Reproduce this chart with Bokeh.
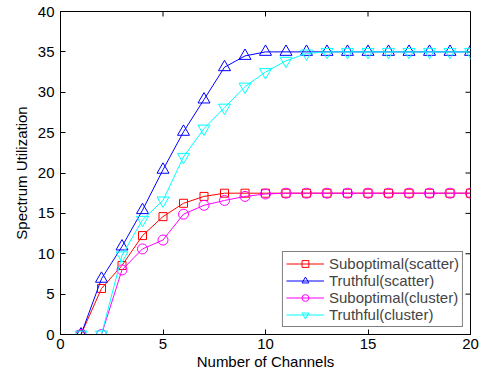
import math
from bokeh.plotting import figure
from bokeh.models import Range1d, FixedTicker, Legend, LegendItem
from bokeh.embed import file_html
from bokeh.resources import INLINE

channels = list(range(1, 21))
sub_scatter = [0, 5.7, 8.55, 12.25, 14.6, 16.25, 17.1, 17.5, 17.5, 17.5,
               17.5, 17.5, 17.5, 17.5, 17.5, 17.5, 17.5, 17.5, 17.5, 17.5]
tru_scatter = [0, 6.9, 10.9, 15.4, 20.4, 25.1, 29.1, 33.1, 34.5, 35.0,
               35, 35, 35, 35, 35, 35, 35, 35, 35, 35]
sub_cluster = [0, 0, 8.0, 10.6, 11.7, 14.9, 16.0, 16.6, 17.1, 17.4,
               17.5, 17.5, 17.5, 17.5, 17.5, 17.5, 17.5, 17.5, 17.5, 17.5]
tru_cluster = [0, 0, 9.8, 14.2, 16.6, 22.0, 25.5, 28.1, 30.7, 32.5,
               33.9, 34.8, 35, 35, 35, 35, 35, 35, 35, 35]
x_ticks = [0, 5, 10, 15, 20]
y_ticks = [0, 5, 10, 15, 20, 25, 30, 35, 40]
x_max = 20
y_max = 40

FONT = "Liberation Sans"
FS = "15px"

p = figure(width=482, height=375, output_backend="svg", toolbar_location=None,
           x_range=Range1d(0, x_max), y_range=Range1d(0, y_max),
           min_border_left=60, min_border_right=12, min_border_top=11, min_border_bottom=41)
p.xgrid.visible = False
p.ygrid.visible = False
p.outline_line_color = "black"
p.outline_line_width = 1
p.background_fill_color = "white"

for ax in (p.xaxis[0], p.yaxis[0]):
    ax.major_tick_in = 5
    ax.major_tick_out = 0
    ax.minor_tick_line_color = None
    ax.axis_line_color = "black"
    ax.major_tick_line_color = "black"
    ax.major_label_text_font = FONT
    ax.major_label_text_font_size = FS
    ax.major_label_text_color = "black"
    ax.axis_label_text_font = FONT
    ax.axis_label_text_font_size = FS
    ax.axis_label_text_font_style = "normal"
    ax.axis_label_text_color = "black"
p.xaxis[0].ticker = FixedTicker(ticks=x_ticks)
p.yaxis[0].ticker = FixedTicker(ticks=y_ticks)
p.xaxis[0].axis_label = "Number of Channels"
p.yaxis[0].axis_label = "Spectrum Utilization"
p.xaxis[0].major_label_standoff = 4
p.yaxis[0].major_label_standoff = 6
p.xaxis[0].axis_label_standoff = 1
p.yaxis[0].axis_label_standoff = 5

# inward ticks on the top and right edges of the box
p.scatter(x_ticks, [y_max] * len(x_ticks), marker="dash", angle=math.pi / 2, size=10,
          line_color="black", line_width=1)
p.scatter([x_max] * len(y_ticks), y_ticks, marker="dash", size=10,
          line_color="black", line_width=1)

series = [
    ("Suboptimal(scatter)", sub_scatter, "#FF0000", "square", 8),
    ("Truthful(scatter)", tru_scatter, "#0000FF", "triangle", 12),
    ("Suboptimal(cluster)", sub_cluster, "#FF00FF", "circle", 10),
    ("Truthful(cluster)", tru_cluster, "#00FFFF", "inverted_triangle", 12),
]
items = []
for name, ys, col, mk, sz in series:
    l = p.line(channels, ys, line_color=col, line_width=1)
    s = p.scatter(channels, ys, marker=mk, size=sz, line_color=col, fill_color=None, line_width=1)
    items.append(LegendItem(label=name, renderers=[l, s]))

legend = Legend(items=items, location="bottom_right", margin=7, padding=3, spacing=0,
                glyph_width=38, glyph_height=17, label_height=17,
                label_text_font=FONT, label_text_font_size=FS, label_standoff=5,
                border_line_color="black", border_line_width=1,
                background_fill_alpha=1.0)
p.add_layout(legend)

open("out.html", "w").write(file_html(p, INLINE))
